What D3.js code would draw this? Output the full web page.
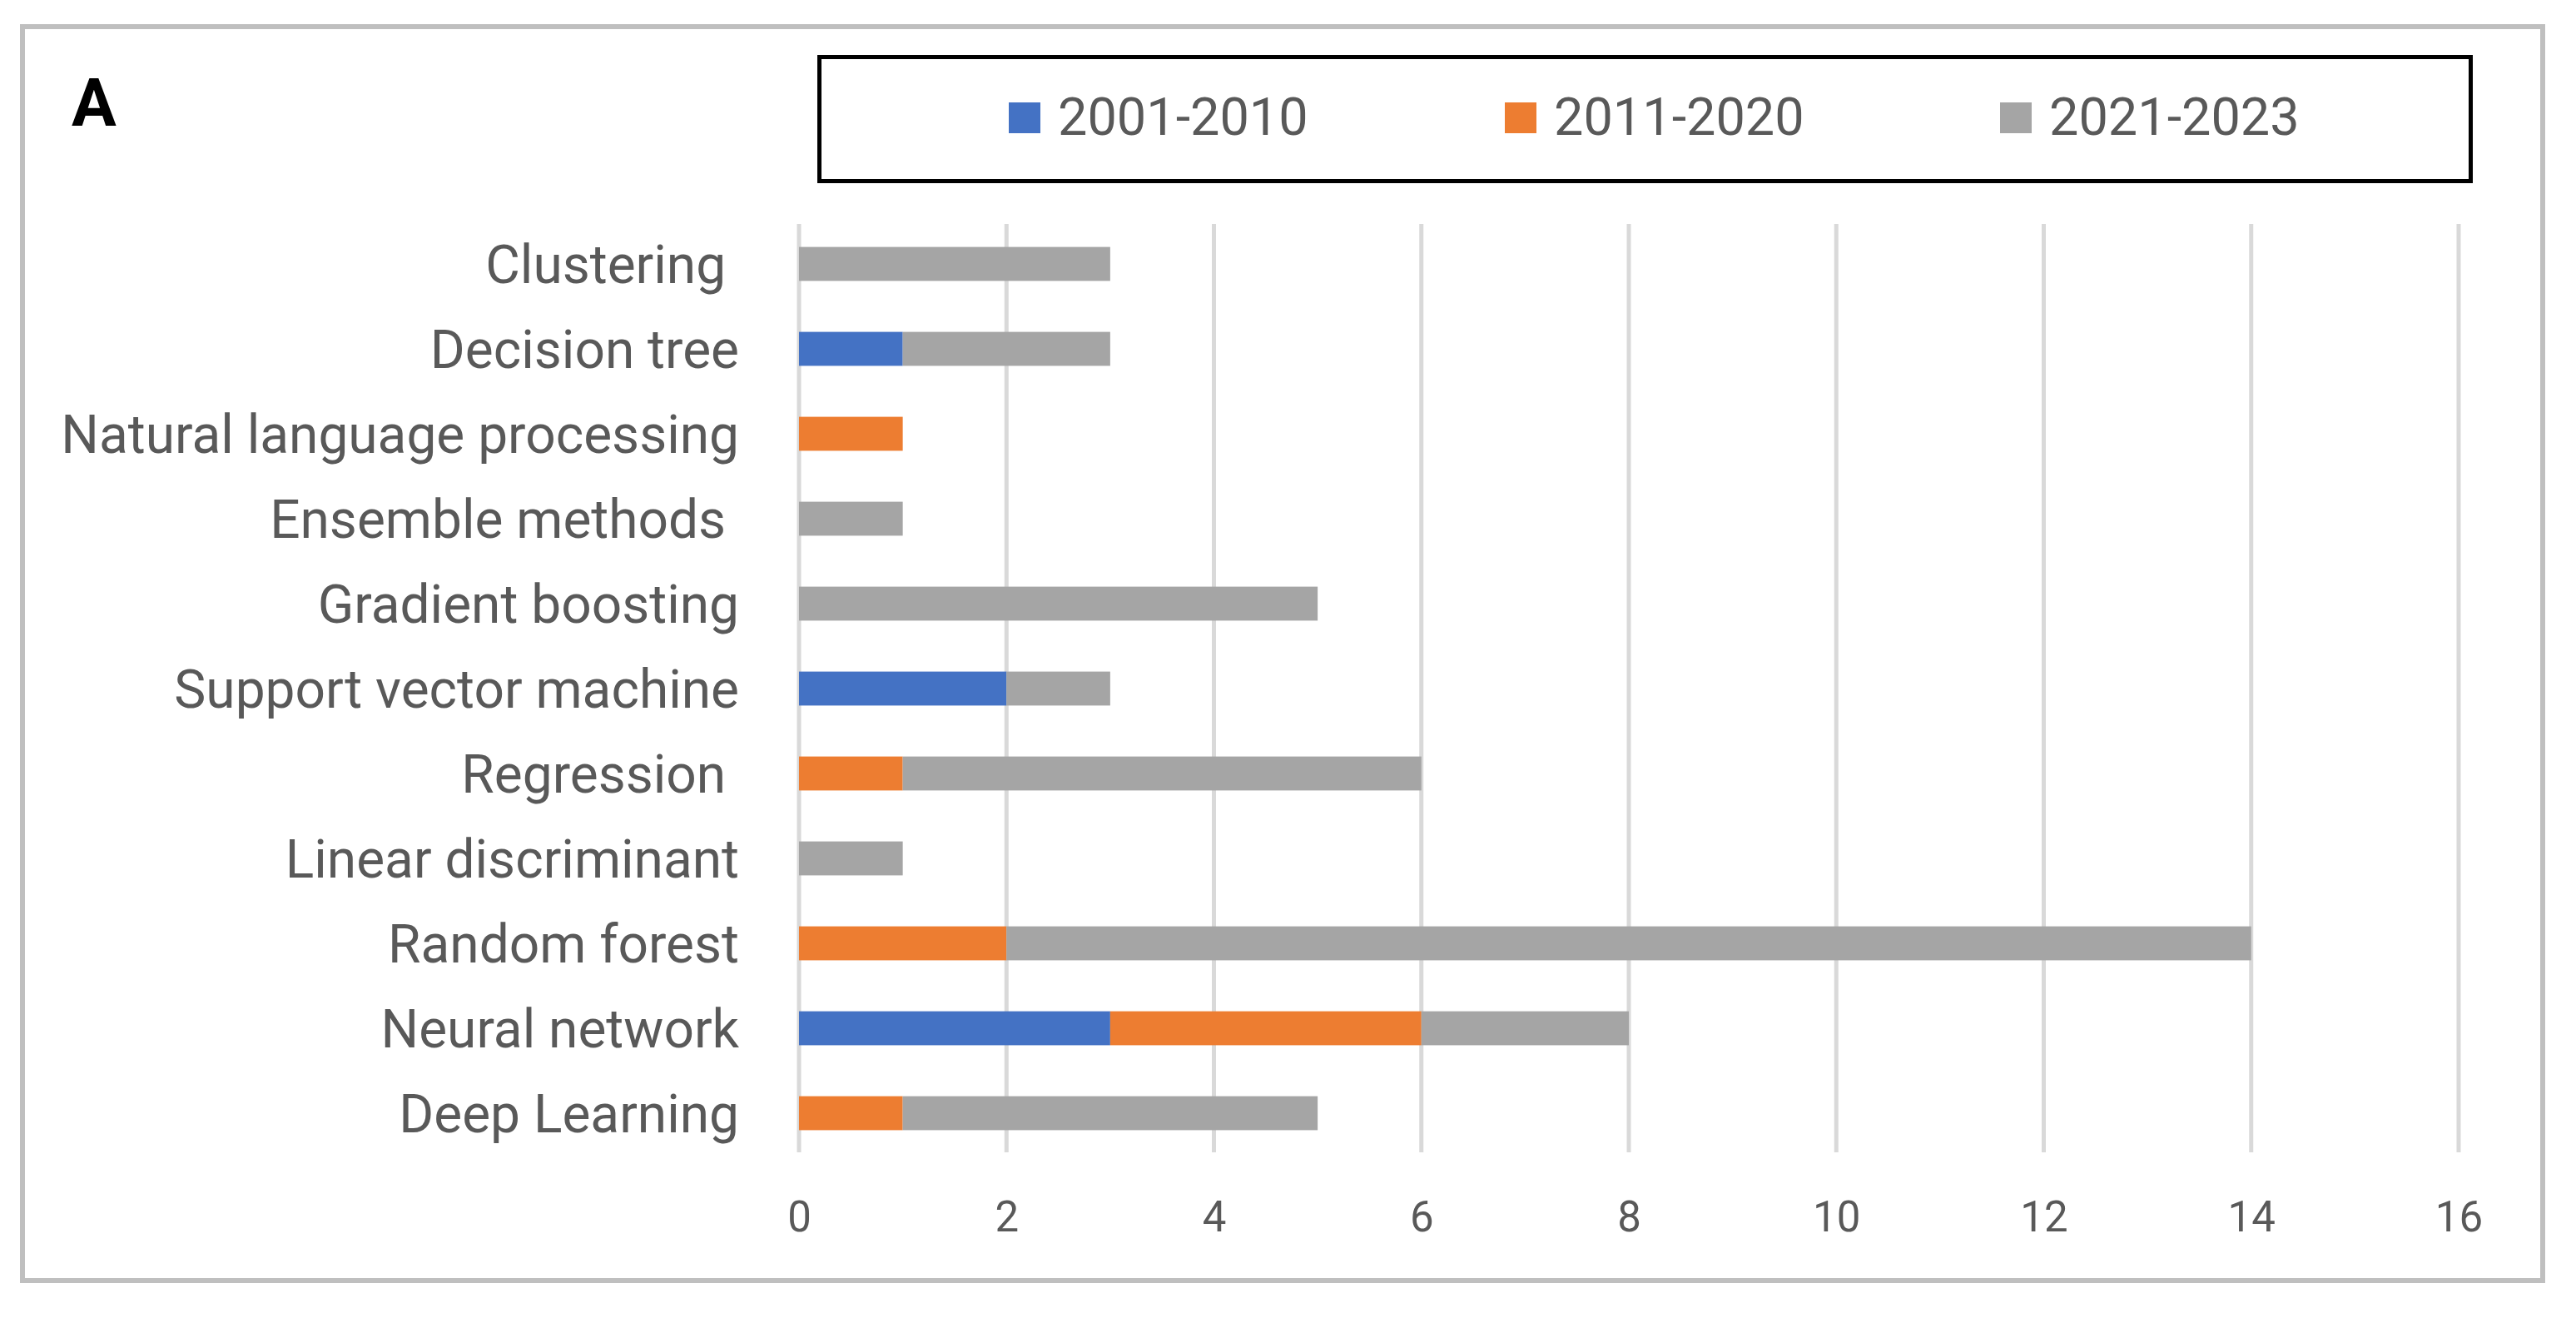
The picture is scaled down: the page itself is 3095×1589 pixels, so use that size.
<!DOCTYPE html>
<html>
<head>
<meta charset="utf-8">
<script src="https://cdn.jsdelivr.net/npm/d3@7"></script>
<style>
  body { margin: 0; background: #fff; }
  text { font-family: Roboto, "Open Sans", sans-serif; white-space: pre; }
</style>
</head>
<body>
<div id="chart"></div>
<script>
// categories top to bottom, as in the picture (some labels carry a trailing space)
const categories = ['Clustering ', 'Decision tree', 'Natural language processing', 'Ensemble methods ',
    'Gradient boosting', 'Support vector machine', 'Regression ', 'Linear discriminant',
    'Random forest', 'Neural network', 'Deep Learning'];
const seriesNames = ['2001-2010', '2011-2020', '2021-2023'];
const s2001_2010 = [0, 1, 0, 0, 0, 2, 0, 0, 0, 3, 0];
const s2011_2020 = [0, 0, 1, 0, 0, 0, 1, 0, 2, 3, 1];
const s2021_2023 = [3, 2, 0, 1, 5, 1, 5, 1, 12, 2, 4];
const xTicks = [0, 2, 4, 6, 8, 10, 12, 14, 16];
const colors = ['#4472c4', '#ed7d31', '#a5a5a5'];

const width = 3095, height = 1589;

let rows = categories.map((c, i) => ({
    cat: c,
    '2001-2010': s2001_2010[i],
    '2011-2020': s2011_2020[i],
    '2021-2023': s2021_2023[i]
}));

let svg = d3.select('#chart').append('svg')
    .attr('width', width)
    .attr('height', height);

// outer frame
svg.append('rect')
    .attr('x', 27).attr('y', 32)
    .attr('width', 3028).attr('height', 1506)
    .attr('fill', '#fff')
    .attr('stroke', '#bfbfbf')
    .attr('stroke-width', 6);

let x = d3.scaleLinear().domain([0, 16]).range([960, 2954]);
let y = d3.scaleBand().domain(categories).range([266, 1388]).paddingInner(0.6).paddingOuter(0.3);

// gridlines
svg.append('g').selectAll('line')
    .data(xTicks)
    .join('line')
        .attr('x1', d => x(d)).attr('x2', d => x(d))
        .attr('y1', 269).attr('y2', 1384)
        .attr('stroke', '#d9d9d9')
        .attr('stroke-width', 5);

let stack = d3.stack().keys(seriesNames);
let layers = stack(rows);

svg.append('g').selectAll('g')
    .data(layers)
    .join('g')
        .attr('fill', (d, i) => colors[i])
    .selectAll('rect')
    .data(d => d.filter(v => v[1] - v[0] > 0))
    .join('rect')
        .attr('x', d => x(d[0]))
        .attr('y', d => y(d.data.cat))
        .attr('width', d => x(d[1]) - x(d[0]))
        .attr('height', y.bandwidth());

// category labels
svg.append('g').selectAll('text')
    .data(categories)
    .join('text')
        .attr('x', 888)
        .attr('y', d => y(d) + y.bandwidth() / 2)
        .attr('dy', '0.355em')
        .attr('text-anchor', 'end')
        .attr('font-size', 64)
        .attr('fill', '#595959')
        .text(d => d);

// x axis labels
let axis = d3.axisBottom(x).tickValues(xTicks).tickSize(0).tickPadding(0);
let gx = svg.append('g')
    .attr('transform', 'translate(0,1479)')
    .call(axis);
gx.select('.domain').remove();
gx.selectAll('text')
    .attr('dy', 0)
    .attr('font-size', 51)
    .attr('font-family', 'Roboto, sans-serif')
    .attr('fill', '#595959');

// panel letter
svg.append('text')
    .attr('x', 86).attr('y', 151)
    .attr('font-size', 80)
    .attr('font-weight', 'bold')
    .attr('fill', '#000')
    .text('A');

// legend
svg.append('rect')
    .attr('x', 984.5).attr('y', 68.5)
    .attr('width', 1984).attr('height', 149)
    .attr('fill', 'none')
    .attr('stroke', '#000')
    .attr('stroke-width', 5);

let legendX = [1212, 1808, 2403];
let leg = svg.append('g').selectAll('g')
    .data(seriesNames)
    .join('g')
        .attr('transform', (d, i) => `translate(${legendX[i]},0)`);
leg.append('rect')
    .attr('x', 0).attr('y', 123)
    .attr('width', 38).attr('height', 37)
    .attr('fill', (d, i) => colors[i]);
leg.append('text')
    .attr('x', 59).attr('y', 162)
    .attr('font-size', 63)
    .attr('fill', '#595959')
    .text(d => d);
</script>
</body>
</html>
